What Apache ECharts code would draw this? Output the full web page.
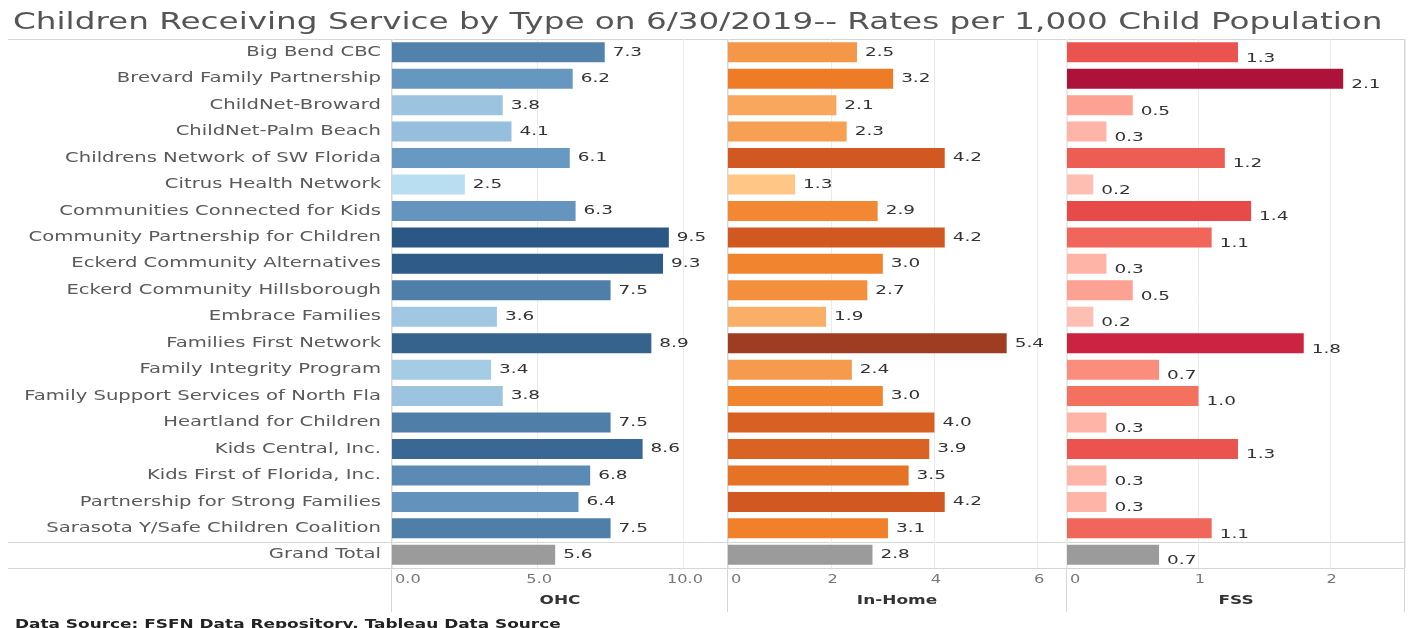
<!DOCTYPE html>
<html>
<head>
<meta charset="utf-8">
<script src="https://cdn.jsdelivr.net/npm/echarts@6/dist/echarts.min.js"></script>
<style>
html,body{margin:0;padding:0;background:#fff;}
#chart{width:1411px;height:628px;}
</style>
</head>
<body>
<div id="chart"></div>
<script>
// ---------- DATA ----------
const categories = [
  'Big Bend CBC','Brevard Family Partnership','ChildNet-Broward','ChildNet-Palm Beach',
  'Childrens Network of SW Florida','Citrus Health Network','Communities Connected for Kids',
  'Community Partnership for Children','Eckerd Community Alternatives','Eckerd Community Hillsborough',
  'Embrace Families','Families First Network','Family Integrity Program',
  'Family Support Services of North Fla','Heartland for Children','Kids Central, Inc.',
  'Kids First of Florida, Inc.','Partnership for Strong Families','Sarasota Y/Safe Children Coalition',
  'Grand Total'
];
const ohcValues    = [7.3,6.2,3.8,4.1,6.1,2.5,6.3,9.5,9.3,7.5,3.6,8.9,3.4,3.8,7.5,8.6,6.8,6.4,7.5,5.6];
const inHomeValues = [2.5,3.2,2.1,2.3,4.2,1.3,2.9,4.2,3.0,2.7,1.9,5.4,2.4,3.0,4.0,3.9,3.5,4.2,3.1,2.8];
const fssValues    = [1.3,2.1,0.5,0.3,1.2,0.2,1.4,1.1,0.3,0.5,0.2,1.8,0.7,1.0,0.3,1.3,0.3,0.3,1.1,0.7];
const measureNames = ['OHC','In-Home','FSS'];
const ohcTickLabels    = {0:'0.0', 5:'5.0', 10:'10.0'};
const inHomeTickLabels = {0:'0', 2:'2', 4:'4', 6:'6'};
const fssTickLabels    = {0:'0', 1:'1', 2:'2'};
const titleText = 'Children Receiving Service by Type on 6/30/2019-- Rates per 1,000 Child Population';
const sourceText = 'Data Source: FSFN Data Repository, Tableau Data Source';

// ---------- text stretch (reference text is horizontally wide) ----------
(function(){
  const P = CanvasRenderingContext2D.prototype;
  const of = P.fillText;
  const stretchBySize = {23: 1.42, 14: 1.4, 13: 1.42};
  P.fillText = function(t, x, y, mw){
    const f = this.font || '';
    const m = /(\d+(?:\.\d+)?)px/.exec(f);
    const size = m ? Math.round(parseFloat(m[1])) : 0;
    let sx = stretchBySize[size] || 1.35;
    if (size === 12 && /bold|700/.test(f)) sx = 1.41;
    this.save();
    this.translate(x, y);
    this.scale(sx, 1);
    if (mw !== undefined) of.call(this, t, 0, 0, mw); else of.call(this, t, 0, 0);
    this.restore();
  };
})();

// ---------- colour ramps ----------
function hex2rgb(h){return [parseInt(h.slice(1,3),16),parseInt(h.slice(3,5),16),parseInt(h.slice(5,7),16)];}
function ramp(stops, t){
  t = Math.max(0, Math.min(1, t));
  for (let i = 1; i < stops.length; i++){
    if (t <= stops[i][0]){
      const a = stops[i-1], b = stops[i];
      const f = (t - a[0]) / (b[0] - a[0] || 1);
      const ca = hex2rgb(a[1]), cb = hex2rgb(b[1]);
      return 'rgb(' + ca.map((c,k)=>Math.round(c + (cb[k]-c)*f)).join(',') + ')';
    }
  }
  return stops[stops.length-1][1];
}
const blueStops   = [[0,'#b9ddf1'],[0.5,'#6a9bc4'],[1,'#2a5783']];
const orangeStops = [[0,'#ffc685'],[0.45,'#f07e27'],[0.7,'#d25a21'],[1,'#9e3d22']];
const redStops    = [[0,'#ffbeb2'],[0.263,'#fb8d7c'],[0.42,'#f4705f'],[0.63,'#e84a4a'],[0.842,'#cb2340'],[1,'#ae123a']];

function colorFn(values, stops){
  const body = values.slice(0, values.length - 1);
  const mn = Math.min.apply(null, body), mx = Math.max.apply(null, body);
  return function(p){
    if (p.dataIndex === values.length - 1) return '#9b9b9b';
    return ramp(stops, (p.value - mn) / (mx - mn));
  };
}

// ---------- layout ----------
const FONT = '"DejaVu Sans", sans-serif';
const plotTop = 39, plotH = 529, plotBottom = plotTop + plotH;
const panels = [
  {left: 392, width: 336, max: 11.53, interval: 5, ticks: ohcTickLabels, values: ohcValues, stops: blueStops, offY: 0},
  {left: 728, width: 338, max: 6.55, interval: 2, ticks: inHomeTickLabels, values: inHomeValues, stops: orangeStops, offY: 0},
  {left: 1067, width: 338, max: 2.57, interval: 1, ticks: fssTickLabels, values: fssValues, stops: redStops, offY: 6}
];
const rightEdge = 1405, leftEdge = 8, lineBottom = 612;

const grid = [], xAxis = [], yAxis = [], series = [];
panels.forEach((pn, i) => {
  grid.push({left: pn.left, top: plotTop, width: pn.width, height: plotH});
  xAxis.push({
    type: 'value', gridIndex: i, min: 0, max: pn.max, interval: pn.interval,
    name: measureNames[i], nameLocation: 'middle', nameGap: 27,
    nameTextStyle: {fontFamily: FONT, fontWeight: 'bold', fontSize: 12, color: '#333'},
    axisLine: {show: false}, axisTick: {show: false},
    axisLabel: {
      fontFamily: FONT, fontSize: 12, color: '#777', margin: 6,
      showMaxLabel: false, alignMinLabel: 'left', padding: [0, 0, 0, 3],
      formatter: v => (pn.ticks[v] !== undefined ? pn.ticks[v] : '')
    },
    splitLine: {show: true, lineStyle: {color: '#ebebeb', width: 1}}
  });
  yAxis.push({
    type: 'category', gridIndex: i, data: categories, inverse: true,
    axisLine: {show: false}, axisTick: {show: false}, splitLine: {show: false},
    axisLabel: {show: i === 0, interval: 0, fontFamily: FONT, fontSize: 14, color: '#5a5a5a', margin: 11}
  });
  series.push({
    type: 'bar', name: measureNames[i], xAxisIndex: i, yAxisIndex: i,
    data: pn.values, barWidth: 20,
    itemStyle: {color: colorFn(pn.values, pn.stops)},
    label: {
      show: true, position: 'right', distance: 8, offset: [0, pn.offY],
      fontFamily: FONT, fontSize: 13, color: '#333', textBorderWidth: 0,
      formatter: p => p.value.toFixed(1)
    },
    emphasis: {disabled: true}, animation: false
  });
});

// frame lines
const lineColor = '#d6d6d6';
const graphic = [];
const hLines = [plotTop, plotTop + plotH * 19 / 20, plotBottom];
hLines.forEach(y => graphic.push({type: 'line', shape: {x1: leftEdge, y1: Math.round(y) + 0.5, x2: rightEdge, y2: Math.round(y) + 0.5}, style: {stroke: lineColor, lineWidth: 1}, silent: true}));
const vLines = [panels[0].left, panels[1].left, panels[2].left, rightEdge];
vLines.forEach(x => graphic.push({type: 'line', shape: {x1: x - 0.5, y1: plotTop, x2: x - 0.5, y2: lineBottom}, style: {stroke: lineColor, lineWidth: 1}, silent: true}));

const chart = echarts.init(document.getElementById('chart'), null, {renderer: 'canvas'});
chart.setOption({
  backgroundColor: '#fff',
  animation: false,
  title: [
    {text: titleText, left: 8, top: 7, textStyle: {fontFamily: FONT, fontSize: 23, fontWeight: 'normal', color: '#555'}},
    {text: sourceText, left: 10, top: 614, textStyle: {fontFamily: FONT, fontSize: 12, fontWeight: 'bold', color: '#222'}}
  ],
  grid: grid, xAxis: xAxis, yAxis: yAxis, series: series,
  graphic: graphic
});
</script>
</body>
</html>
